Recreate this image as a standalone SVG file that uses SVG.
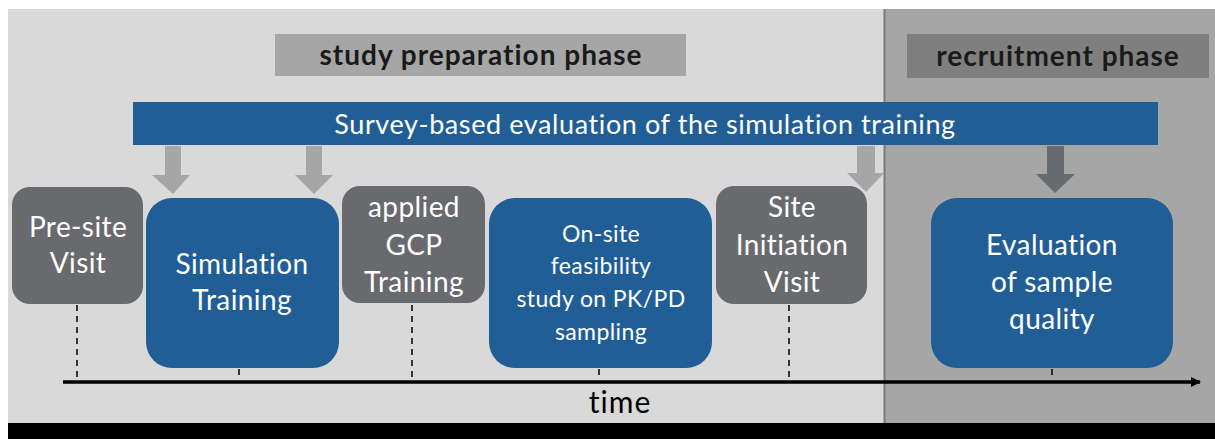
<svg xmlns="http://www.w3.org/2000/svg" width="1215" height="439" viewBox="0 0 1215 439">
<style>
.t{font-family:Lato,"Open Sans","Liberation Sans",sans-serif;text-anchor:middle}
.w{fill:#ffffff;font-size:28px;letter-spacing:0.4px}
.sv{fill:#ffffff;font-size:27px;letter-spacing:0.6px}
.ws{fill:#ffffff;font-size:23px;letter-spacing:0.4px}
.ph{fill:#1a1a1a;font-size:28px;font-weight:bold;letter-spacing:1px}
.blue{fill:#215e95}
.grey{fill:#686a6d}
.dash{stroke:#000;stroke-width:1.5;stroke-dasharray:6,5;fill:none}
</style>
<defs>
<marker id="ah" markerWidth="10" markerHeight="10" refX="9" refY="5" orient="auto" markerUnits="userSpaceOnUse">
<path d="M0,0 L10,5 L0,10 Z" fill="#000"/>
</marker>
</defs>
<rect x="0" y="0" width="1215" height="439" fill="#ffffff"/>
<rect x="8" y="9" width="877" height="414" fill="#d9d9d9"/>
<rect x="885" y="9" width="330" height="414" fill="#a6a6a6"/>
<line x1="884.5" y1="9" x2="884.5" y2="423" stroke="#7a7a7a" stroke-width="2"/>
<rect x="8" y="423" width="1207" height="16" fill="#000"/>

<g id="phase-prep">
<rect x="275" y="34" width="411" height="42" fill="#a6a6a6"/>
<text class="t ph" x="481" y="65">study preparation phase</text>
</g>
<g id="phase-recruit">
<rect x="907" y="34" width="302" height="44" fill="#7f7f7f"/>
<text class="t ph" x="1058" y="66">recruitment phase</text>
</g>
<g id="survey">
<rect x="133" y="102" width="1025" height="43" class="blue"/>
<text class="t sv" x="645" y="134">Survey-based evaluation of the simulation training</text>
</g>

<g id="connectors">
<path d="M165,146 H181 V175 H190 L173,194 L152,175 H165 Z" fill="#a6a6a6"/>
<path d="M306,146 H322 V175 H333 L314,194 L295,175 H306 Z" fill="#a6a6a6"/>
<path d="M857,146 H875 V173 H884 L866,192 L847,173 H857 Z" fill="#a6a6a6"/>
<path d="M1047,146 H1064 V174 H1075 L1055,193 L1036,174 H1047 Z" fill="#676a6e"/>
<line x1="63" y1="382" x2="1200" y2="382" stroke="#000" stroke-width="3.5" marker-end="url(#ah)"/>
<line class="dash" x1="77" y1="305" x2="77" y2="380"/>
<line class="dash" x1="239" y1="369" x2="239" y2="380"/>
<line class="dash" x1="412" y1="305" x2="412" y2="380"/>
<line class="dash" x1="599" y1="369" x2="599" y2="380"/>
<line class="dash" x1="789" y1="305" x2="789" y2="380"/>
<line class="dash" x1="1052" y1="369" x2="1052" y2="380"/>
</g>

<g id="presite">
<rect x="12" y="187" width="131" height="117" rx="18" class="grey"/>
<text class="t w" x="78" y="237">Pre-site</text>
<text class="t w" x="78" y="273">Visit</text>
</g>
<g id="simulation">
<rect x="146" y="198" width="193" height="170" rx="26" class="blue"/>
<text class="t w" x="242" y="274">Simulation</text>
<text class="t w" x="242" y="310">Training</text>
</g>
<g id="gcp">
<rect x="342" y="186" width="143" height="117" rx="18" class="grey"/>
<text class="t w" x="414" y="217">applied</text>
<text class="t w" x="414" y="255">GCP</text>
<text class="t w" x="414" y="292">Training</text>
</g>
<g id="onsite">
<rect x="489" y="198" width="223" height="170" rx="26" class="blue"/>
<text class="t ws" x="601" y="242">On-site</text>
<text class="t ws" x="601" y="274">feasibility</text>
<text class="t ws" x="601" y="307">study on PK/PD</text>
<text class="t ws" x="601" y="340">sampling</text>
</g>
<g id="siv">
<rect x="716" y="186" width="151" height="118" rx="18" class="grey"/>
<text class="t w" x="792" y="217">Site</text>
<text class="t w" x="792" y="255">Initiation</text>
<text class="t w" x="792" y="292">Visit</text>
</g>
<g id="evaluation">
<rect x="931" y="198" width="242" height="170" rx="26" class="blue"/>
<text class="t w" x="1052" y="255">Evaluation</text>
<text class="t w" x="1052" y="292">of sample</text>
<text class="t w" x="1052" y="329">quality</text>
</g>
<text class="t" x="620" y="413" font-size="30" letter-spacing="1" fill="#000">time</text>
</svg>
